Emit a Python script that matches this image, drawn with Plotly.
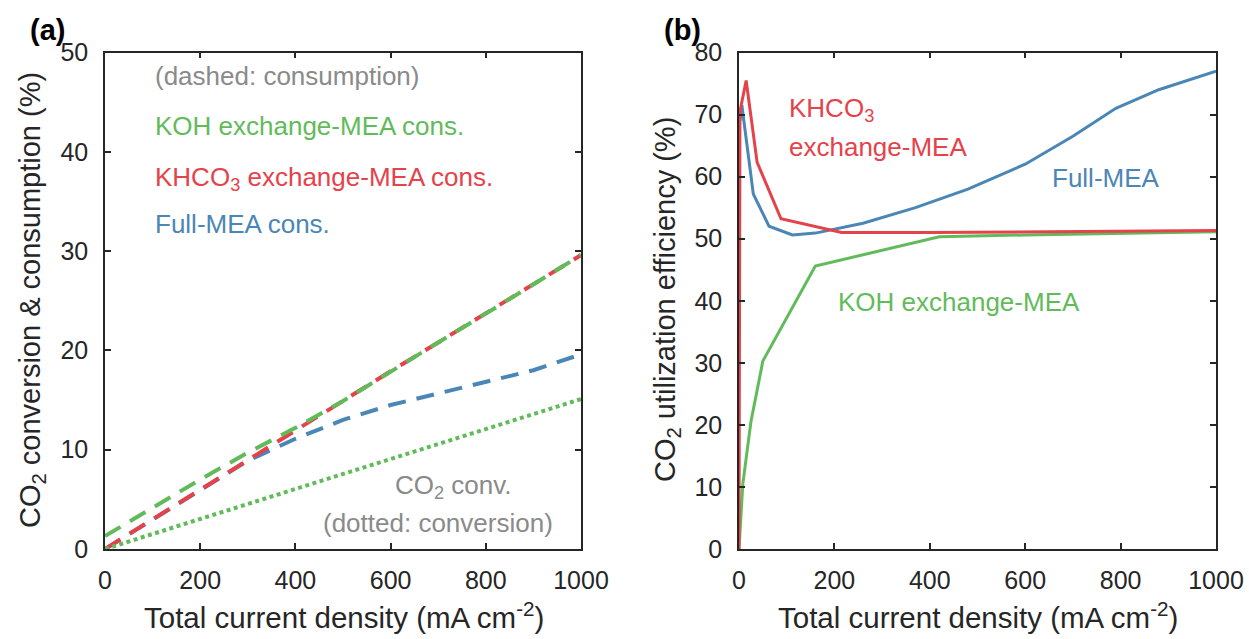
import plotly.graph_objects as go

# ---------------- data ----------------
# Panel (a): CO2 consumption (dashed) and conversion (dotted) vs current density
a_x = [0, 100, 200, 300, 400, 500, 600, 700, 800, 900, 1000]
koh_cons = [1.3, 4.2, 7.0, 9.7, 12.2, 14.9, 17.9, 20.8, 23.7, 26.6, 29.6]
khco3_cons = [0.0, 3.0, 6.0, 9.0, 11.9, 14.9, 17.9, 20.8, 23.7, 26.6, 29.6]
full_cons = [0.0, 3.0, 6.0, 8.9, 11.1, 13.0, 14.5, 15.7, 16.8, 18.0, 19.6]
koh_conv = [0.0, 1.5, 3.0, 4.5, 6.0, 7.55, 9.05, 10.6, 12.1, 13.6, 15.1]

# Panel (b): CO2 utilization efficiency vs current density
full_x = [2, 6, 30, 63, 112, 160, 260, 370, 480, 600, 700, 790, 880, 950, 1000]
full_eff = [69.0, 71.5, 57.2, 52.0, 50.6, 50.9, 52.5, 55.0, 58.0, 62.0, 66.5, 71.0, 74.0, 75.8, 77.0]
khco3_x = [0, 2, 15, 38, 88, 215, 400, 600, 800, 1000]
khco3_eff = [0.0, 70.5, 75.5, 62.3, 53.2, 51.0, 51.0, 51.1, 51.2, 51.3]
koh_x = [0, 8, 25, 50, 160, 420, 600, 800, 1000]
koh_eff = [0.0, 10.5, 20.5, 30.3, 45.6, 50.3, 50.6, 50.9, 51.1]

x_ticks = [0, 200, 400, 600, 800, 1000]
a_y_ticks = [0, 10, 20, 30, 40, 50]
b_y_ticks = [0, 10, 20, 30, 40, 50, 60, 70, 80]

# ---------------- style ----------------
GREEN = "#62BB5A"
RED = "#E5424A"
BLUE = "#4A86B6"
GRAY = "#8A8A8A"
AX = "#262626"
FONT = "Liberation Sans, Arial, Helvetica, sans-serif"
W, H = 1249, 639
DASH = "18px,11px"
ANN = 26

fig = go.Figure()

# panel (a)
fig.add_trace(go.Scatter(x=a_x, y=full_cons, mode="lines", xaxis="x", yaxis="y",
                         line=dict(color=BLUE, width=4, dash=DASH), showlegend=False))
fig.add_trace(go.Scatter(x=a_x, y=khco3_cons, mode="lines", xaxis="x", yaxis="y",
                         line=dict(color=RED, width=4, dash=DASH), showlegend=False))
fig.add_trace(go.Scatter(x=a_x, y=koh_cons, mode="lines", xaxis="x", yaxis="y",
                         line=dict(color=GREEN, width=4, dash=DASH), showlegend=False))
fig.add_trace(go.Scatter(x=a_x, y=koh_conv, mode="lines", xaxis="x", yaxis="y",
                         line=dict(color=GREEN, width=4, dash="4px,3.5px"), showlegend=False))

# panel (b)
fig.add_trace(go.Scatter(x=koh_x, y=koh_eff, mode="lines", xaxis="x2", yaxis="y2",
                         line=dict(color=GREEN, width=3), showlegend=False))
fig.add_trace(go.Scatter(x=full_x, y=full_eff, mode="lines", xaxis="x2", yaxis="y2",
                         line=dict(color=BLUE, width=3), showlegend=False))
fig.add_trace(go.Scatter(x=khco3_x, y=khco3_eff, mode="lines", xaxis="x2", yaxis="y2",
                         line=dict(color=RED, width=3), showlegend=False))

ydom = [1 - 549 / H, 1 - 52.5 / H]
axis_common = dict(showline=True, linecolor=AX, linewidth=1.5, mirror="ticks",
                   ticks="inside", ticklen=6, tickwidth=1.5, tickcolor=AX,
                   showgrid=False, zeroline=False, automargin=False,
                   tickfont=dict(family=FONT, size=25, color=AX))

fig.update_layout(
    width=W, height=H, autosize=False,
    margin=dict(l=0, r=0, t=0, b=0, pad=0),
    paper_bgcolor="white", plot_bgcolor="white",
    xaxis=dict(domain=[105 / W, 581 / W], range=[0, 1000], tickvals=x_ticks,
               anchor="y", ticklabelstandoff=8, **axis_common),
    yaxis=dict(domain=ydom, range=[0, 50], tickvals=a_y_ticks, anchor="x",
               ticklabelstandoff=10, **axis_common),
    xaxis2=dict(domain=[739 / W, 1216 / W], range=[0, 1000], tickvals=x_ticks,
                anchor="y2", ticklabelstandoff=8, **axis_common),
    yaxis2=dict(domain=ydom, range=[0, 80], tickvals=b_y_ticks, anchor="x2",
                ticklabelstandoff=10, **axis_common),
)

def ann(text, x, y, color, size=ANN, xref="x", yref="y", xanchor="left", angle=0):
    fig.add_annotation(text=text, x=x, y=y, xref=xref, yref=yref, showarrow=False,
                       xanchor=xanchor, yanchor="middle", textangle=angle,
                       font=dict(family=FONT, size=size, color=color))

# panel (a) text
ann("(dashed: consumption)", 100, 47.6, GRAY)
ann("KOH exchange-MEA cons.", 100, 42.6, GREEN)
ann("KHCO<sub>3</sub> exchange-MEA cons.", 100, 37.3, RED)
ann("Full-MEA cons.", 100, 32.7, BLUE)
ann("CO<sub>2</sub> conv.", 605, 6.3, GRAY)
ann("(dotted: conversion)", 454, 2.6, GRAY)

# panel (b) text
ann("KHCO<sub>3</sub>", 100, 70.8, RED, xref="x2", yref="y2")
ann("exchange-MEA", 100, 64.8, RED, xref="x2", yref="y2")
ann("Full-MEA", 652, 59.7, BLUE, xref="x2", yref="y2")
ann("KOH exchange-MEA", 203, 39.8, GREEN, xref="x2", yref="y2")

# axis titles
ann("Total current density (mA cm<sup>-2</sup>)", 344 / W, 1 - 615 / H, AX, size=29.5,
    xref="paper", yref="paper", xanchor="center")
ann("Total current density (mA cm<sup>-2</sup>)", 978 / W, 1 - 615 / H, AX, size=29.5,
    xref="paper", yref="paper", xanchor="center")
ann("CO<sub>2</sub> conversion & consumption (%)", 32 / W, 1 - 300 / H, AX, size=29,
    xref="paper", yref="paper", xanchor="center", angle=-90)
ann("CO<sub>2</sub> utilization efficiency (%)", 667 / W, 1 - 300 / H, AX, size=29,
    xref="paper", yref="paper", xanchor="center", angle=-90)

# panel labels
ann("<b>(a)</b>", 28 / W, 1 - 30 / H, "black", size=29, xref="paper", yref="paper")
ann("<b>(b)</b>", 662 / W, 1 - 30 / H, "black", size=29, xref="paper", yref="paper")

fig.write_html("out.html", config={"displayModeBar": False},
               post_script="document.body.style.margin='0px';")
